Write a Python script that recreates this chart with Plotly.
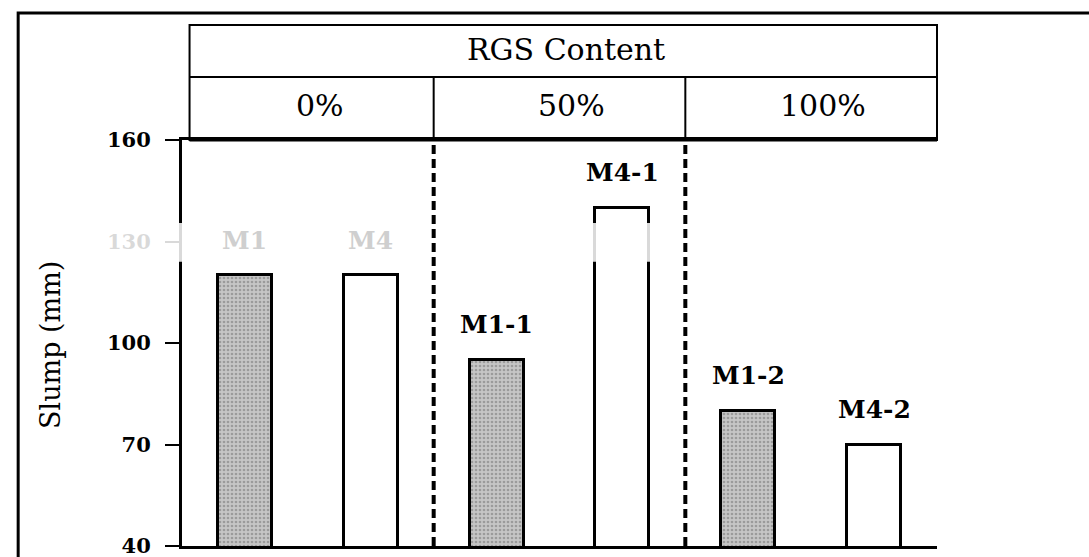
"""Slump of mixes by RGS content, drawn as a bar chart with a header table."""
import plotly.graph_objects as go

# Data
categories = ["M1", "M4", "M1-1", "M4-1", "M1-2", "M4-2"]
slump = [120, 120, 95, 140, 80, 70]
series = ["M1", "M4", "M1", "M4", "M1", "M4"]  # M1 = stippled grey, M4 = open
groups = ["0%", "50%", "100%"]
y_ticks = [40, 70, 100, 130, 160]
faded_labels = {"M1", "M4"}

FONT = "DejaVu Serif"
x_pos = list(range(len(categories)))

fig = go.Figure()
fig.add_trace(
    go.Bar(
        x=[x for x, s in zip(x_pos, series) if s == "M1"],
        y=[v for v, s in zip(slump, series) if s == "M1"],
        width=0.43,
        marker=dict(
            color="#c6c6c6",
            line=dict(color="black", width=3),
            pattern=dict(shape=".", fgcolor="#707070", size=4, solidity=0.35),
        ),
    )
)
fig.add_trace(
    go.Bar(
        x=[x for x, s in zip(x_pos, series) if s == "M4"],
        y=[v for v, s in zip(slump, series) if s == "M4"],
        width=0.43,
        marker=dict(color="white", line=dict(color="black", width=3)),
    )
)

shapes = []
# washed-out scan band around 130
shapes.append(dict(type="rect", xref="paper", yref="y", x0=-0.11, x1=1.01,
                   y0=124, y1=135.5, fillcolor="white", opacity=0.85,
                   line=dict(width=0), layer="above"))
# dashed group separators
for b in (1.5, 3.5):
    shapes.append(dict(type="line", xref="x", yref="paper", x0=b, x1=b, y0=0, y1=1,
                       line=dict(color="black", width=4, dash="9px,5px")))
# header table
t_top, t_mid, t_bot = 1.283, 1.155, 1.0
shapes.append(dict(type="rect", xref="paper", yref="paper", x0=0.01, x1=1.0,
                   y0=t_bot, y1=t_top, line=dict(color="black", width=2)))
shapes.append(dict(type="line", xref="paper", yref="paper", x0=0.01, x1=1.0,
                   y0=t_mid, y1=t_mid, line=dict(color="black", width=2)))
shapes.append(dict(type="line", xref="paper", yref="paper", x0=0.01, x1=1.0,
                   y0=t_bot, y1=t_bot, line=dict(color="black", width=3)))
for b in (1.5, 3.5):
    shapes.append(dict(type="line", xref="x", yref="paper", x0=b, x1=b,
                       y0=t_bot, y1=t_mid, line=dict(color="black", width=2)))
# outer frame (right and bottom edges fall outside the page)
shapes.append(dict(type="rect", xref="paper", yref="paper", x0=-0.217, x1=1.4,
                   y0=-0.2, y1=1.313, line=dict(color="black", width=3)))

annotations = []
for x, lab, v in zip(x_pos, categories, slump):
    annotations.append(dict(
        x=x, y=v, xref="x", yref="y", text=f"<b>{lab}</b>", showarrow=False,
        yanchor="middle", yshift=35,
        font=dict(family=FONT, size=25,
                  color="#cfcfcf" if lab in faded_labels else "black"),
    ))
annotations.append(dict(x=0.5, y=1.222, xref="paper", yref="paper", text="RGS Content",
                        xanchor="center", yanchor="middle", xshift=6, showarrow=False,
                        font=dict(family=FONT, size=30, color="black")))
for i, g in enumerate(groups):
    annotations.append(dict(x=2 * i + 0.5, y=1.085, xref="x", yref="paper", text=g,
                            xanchor="center", yanchor="middle", xshift=12, showarrow=False,
                            font=dict(family=FONT, size=30, color="black")))
annotations.append(dict(x=-0.175, y=0.495, xref="paper", yref="paper", text="Slump (mm)",
                        textangle=-90, xanchor="center", yanchor="middle", showarrow=False,
                        font=dict(family=FONT, size=27, color="black")))

fig.update_layout(
    width=1089,
    height=557,
    paper_bgcolor="white",
    plot_bgcolor="white",
    showlegend=False,
    bargap=0,
    margin=dict(l=182, r=152, t=140, b=11, autoexpand=False),
    xaxis=dict(range=[-0.5, 5.5], showticklabels=False, ticks="", automargin=False,
               showgrid=False, zeroline=False, showline=True,
               linecolor="black", linewidth=3, mirror=True),
    yaxis=dict(range=[40, 160], tickvals=y_ticks,
               ticktext=[f"<b>{t}</b>" for t in y_ticks],
               ticks="outside", ticklen=14, tickwidth=2, tickcolor="black",
               ticklabelstandoff=10, ticklabeloverflow="allow", automargin=False,
               tickfont=dict(family=FONT, size=21, color="black"),
               showgrid=False, zeroline=False, showline=True,
               linecolor="black", linewidth=3),
    shapes=shapes,
    annotations=annotations,
)

# drop the default 8px body margin so the 1089x557 figure fills the window
fig.write_html(
    "out.html",
    config={"displayModeBar": False},
    post_script="document.body.style.margin = '0';",
)
